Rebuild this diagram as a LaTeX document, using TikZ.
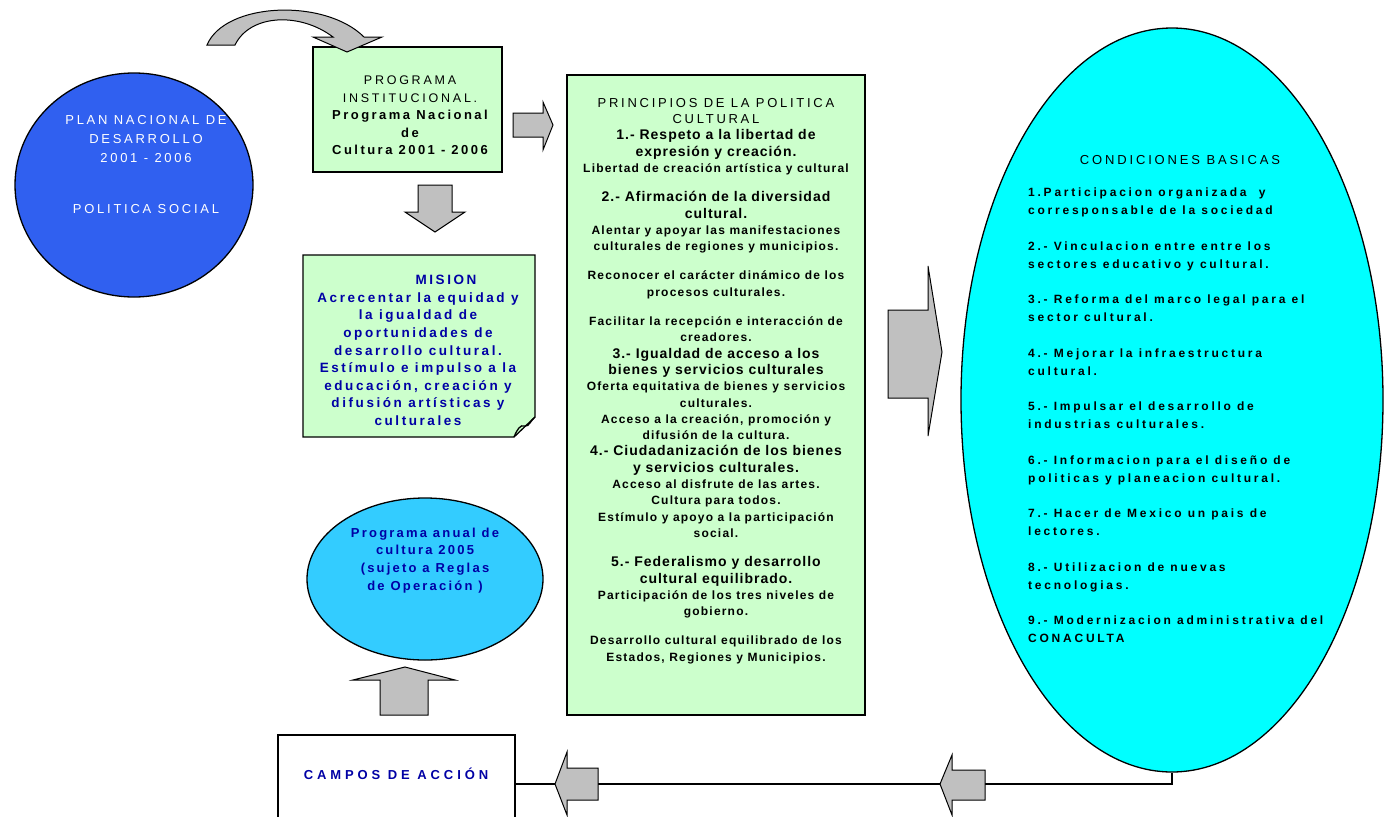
\documentclass[tikz,border=0pt]{standalone}
\usepackage{fontspec}
\setmainfont{Liberation Sans}
\newfontfamily\Reg{Liberation Sans}
\newfontfamily\Bld{Liberation Sans Bold}
\usetikzlibrary{shapes.geometric}
\newcommand\fnt[4]{#4\fontsize{#1}{#2}\selectfont\addfontfeature{LetterSpace=#3}%
  \spaceskip=\dimexpr 0.01em*(28+#3)\relax plus 0.05em\relax
  \xspaceskip=\spaceskip}
\definecolor{planblue}{RGB}{48,96,240}
\definecolor{boxgreen}{RGB}{204,255,204}
\definecolor{cyanfill}{RGB}{0,255,255}
\definecolor{skyfill}{RGB}{51,204,255}
\definecolor{arrowgray}{RGB}{192,192,192}
\definecolor{navy}{RGB}{0,0,165}
\tikzset{
  outline/.style={draw=black, line width=1.3pt},
  blockarrow/.style={draw=black, line width=1pt, fill=arrowgray, line join=miter},
  txt/.style={inner sep=0pt},
}
\begin{document}
\begin{tikzpicture}[x=1pt,y=-1pt]
\useasboundingbox (0,0) rectangle (1385,817);
\clip (0,0) rectangle (1385,817);
\fill[white] (0,0) rectangle (1385,817);

% shapes
\node[ellipse, outline, fill=planblue, minimum width=238pt, minimum height=224pt, inner sep=0pt] (plan) at (134,185) {};
\node[rectangle, outline, fill=boxgreen, minimum width=189pt, minimum height=125pt, inner sep=0pt] (prog) at (407.5,109.5) {};
\node[rectangle, outline, fill=boxgreen, minimum width=298pt, minimum height=640pt, inner sep=0pt] (princ) at (716,395) {};
\node[ellipse, outline, fill=cyanfill, minimum width=422pt, minimum height=744pt, inner sep=0pt] (cond) at (1172,400) {};
\node[ellipse, outline, fill=skyfill, minimum width=236pt, minimum height=162pt, inner sep=0pt] (anual) at (425,579) {};
\node[rectangle, outline, fill=white, minimum width=237pt, minimum height=98pt, inner sep=0pt] (campos) at (396.5,784) {};
% mision note with folded corner
\draw[outline, fill=boxgreen] (303,255) -- (535,255) -- (535,417) -- (514,437) -- (303,437) -- cycle;
\draw[outline] (514,437) .. controls (517,430) and (520,424) .. (525,426) .. controls (529,427) and (531,420) .. (535,417);

% connector line
\draw[line width=1.2pt] (cond.south) |- (campos.east);

% block arrows
\draw[blockarrow] (207,45) .. controls (225,2) and (325,-2) .. (364,37) -- (382,37) -- (347,52) -- (313,37) -- (333,37) .. controls (300,12) and (250,14) .. (235,45) -- cycle;
\draw[blockarrow] (513,113) -- (543,113) -- (543,102) -- (553,125) -- (543,150) -- (543,137) -- (513,137) -- cycle;
\draw[blockarrow] (418,185) -- (452,185) -- (452,212) -- (465,212) -- (435,232) -- (405,212) -- (418,212) -- cycle;
\draw[blockarrow] (380,715) -- (380,680) -- (353,680) -- (405,667) -- (455,680) -- (428,680) -- (428,715) -- cycle;
\draw[blockarrow] (598,768) -- (567,768) -- (567,752) -- (555,784) -- (567,815) -- (567,800) -- (598,800) -- cycle;
\draw[blockarrow] (985,770) -- (952,770) -- (952,755) -- (940,784) -- (952,815) -- (952,800) -- (985,800) -- cycle;
\draw[blockarrow] (888,310) -- (928,310) -- (928,266) -- (942,352) -- (928,436) -- (928,398) -- (888,398) -- cycle;

% texts
\node[txt, anchor=north, text width=240pt, text=white] (plantxt) at (146,115) {\centering\parindent=0pt
\fnt{13}{19}{21}\Reg PLAN NACIONAL DE\par DESARROLLO\par 2001 - 2006\par\vspace{32pt}POLITICA SOCIAL\par};

\node[txt, anchor=north, text width=200pt, text=black] (progtxt) at (410,76) {\centering\parindent=0pt
\fnt{12.5}{17.5}{22}\Reg PROGRAMA\par INSTITUCIONAL.\par
\fnt{13}{17.5}{19}\Bld Programa Nacional\par de\par Cultura 2001 - 2006\par};

\node[txt, anchor=north, text width=240pt, text=navy] (misiontxt) at (418,275) {\centering\parindent=0pt
\fnt{13.5}{17.6}{19}\Bld \hspace*{56pt}MISION\par Acrecentar la equidad y\par la igualdad de\par oportunidades de\par desarrollo cultural.\par Estímulo e impulso a la\par educación, creación y\par difusión artísticas y\par culturales\par};

\newcommand\Hd{\fnt{14}{16.3}{7}\Bld}
\newcommand\Sb{\fnt{12}{16.3}{10}\Bld}
\node[txt, anchor=north, text width=320pt, text=black] (princtxt) at (716,98) {\centering\parindent=0pt
\fnt{13}{16.3}{21}\Reg PRINCIPIOS DE LA POLITICA\par CULTURAL\par
\Hd 1.- Respeto a la libertad de\par expresión y creación.\par
\Sb Libertad de creación artística y cultural\par
\vspace{13pt}
\Hd 2.- Afirmación de la diversidad\par cultural.\par
\Sb Alentar y apoyar las manifestaciones\par culturales de regiones y municipios.\par
\vspace{13pt}
Reconocer el carácter dinámico de los\par procesos culturales.\par
\vspace{13pt}
Facilitar la recepción e interacción de\par creadores.\par
\Hd 3.- Igualdad de acceso a los\par bienes y servicios culturales\par
\Sb Oferta equitativa de bienes y servicios\par culturales.\par
Acceso a la creación, promoción y\par difusión de la cultura.\par
\Hd 4.- Ciudadanización de los bienes\par y servicios culturales.\par
\Sb Acceso al disfrute de las artes.\par Cultura para todos.\par
Estímulo y apoyo a la participación\par social.\par
\vspace{13pt}
\Hd 5.- Federalismo y desarrollo\par cultural equilibrado.\par
\Sb Participación de los tres niveles de\par gobierno.\par
\vspace{13pt}
Desarrollo cultural equilibrado de los\par Estados, Regiones y Municipios.\par};

\node[txt, anchor=base] (condtitle) at (1180,164) {\fnt{13}{15}{22}\Reg CONDICIONES BASICAS};
\node[txt, anchor=north west, text width=350pt, text=black] (condtxt) at (1028,188) {\raggedright\parindent=0pt
\fnt{12}{18}{23}\Bld
1.Participacion organizada\ \ y\par corresponsable de la sociedad\par\vspace{17.5pt}
2.- Vinculacion entre entre los\par sectores educativo y cultural.\par\vspace{17.5pt}
3.- Reforma del marco legal para el\par sector cultural.\par\vspace{17.5pt}
4.- Mejorar la infraestructura\par cultural.\par\vspace{17.5pt}
5.- Impulsar el desarrollo de\par industrias culturales.\par\vspace{17.5pt}
6.- Informacion para el diseño de\par politicas y planeacion cultural.\par\vspace{17.5pt}
7.- Hacer de Mexico un pais de\par lectores.\par\vspace{17.5pt}
8.- Utilizacion de nuevas\par tecnologias.\par\vspace{17.5pt}
9.- Modernizacion administrativa del\par CONACULTA\par};

\node[txt, anchor=north, text width=230pt, text=navy] (anualtxt) at (425,527.5) {\centering\parindent=0pt
\fnt{13}{17.7}{17}\Bld Programa anual de\par cultura 2005\par (sujeto a Reglas\par de Operación )\par};

\node[txt, anchor=base, text=navy] (campostxt) at (396,779) {\fnt{13}{15}{30}\Bld CAMPOS DE ACCIÓN};
\end{tikzpicture}
\end{document}
